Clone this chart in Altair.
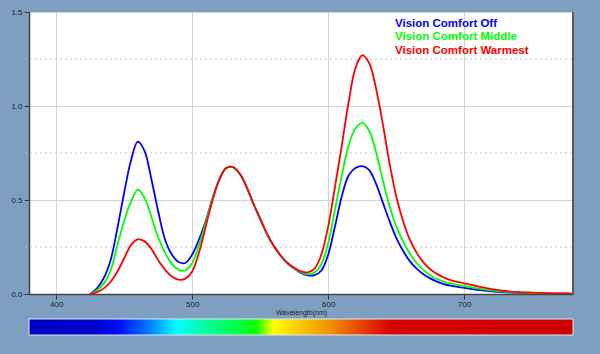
import altair as alt
import pandas as pd

# ---------------- data ----------------
series_names = ["Vision Comfort Off", "Vision Comfort Middle", "Vision Comfort Warmest"]
series_colors = ["#0000ff", "#00ff00", "#ff0000"]

wavelengths = [425, 430, 435, 440, 445, 450, 455, 460, 465, 470, 475, 480, 485, 490, 495,
               500, 505, 510, 515, 520, 525, 530, 535, 540, 545, 550, 555, 560, 565, 570,
               575, 580, 585, 590, 595, 600, 605, 610, 615, 620, 625, 630, 635, 640, 645,
               650, 655, 660, 665, 670, 675, 680, 685, 690, 695, 700,
               710, 720, 730, 740, 750, 760, 770, 780]

off_values = [0.0, 0.03, 0.085, 0.18, 0.35, 0.54, 0.71, 0.81, 0.76, 0.61, 0.44, 0.29, 0.21, 0.17, 0.165,
              0.21, 0.29, 0.39, 0.51, 0.61, 0.67, 0.675, 0.64, 0.57, 0.48, 0.40, 0.32, 0.255, 0.205, 0.165,
              0.135, 0.112, 0.099, 0.10, 0.125, 0.21, 0.36, 0.52, 0.63, 0.67, 0.68, 0.66, 0.59, 0.49, 0.39,
              0.30, 0.23, 0.175, 0.135, 0.105, 0.083, 0.066, 0.053, 0.044, 0.038, 0.033,
              0.022, 0.014, 0.009, 0.006, 0.004, 0.003, 0.002, 0.001]

middle_values = [0.0, 0.02, 0.055, 0.125, 0.26, 0.39, 0.49, 0.555, 0.51, 0.41, 0.30, 0.22, 0.16, 0.13, 0.125,
                 0.165, 0.26, 0.38, 0.51, 0.61, 0.67, 0.675, 0.64, 0.57, 0.48, 0.40, 0.32, 0.255, 0.205, 0.165,
                 0.137, 0.116, 0.105, 0.115, 0.16, 0.27, 0.45, 0.63, 0.79, 0.88, 0.91, 0.87, 0.76, 0.61, 0.47,
                 0.36, 0.28, 0.215, 0.165, 0.128, 0.10, 0.08, 0.066, 0.056, 0.049, 0.043,
                 0.03, 0.019, 0.012, 0.008, 0.005, 0.003, 0.002, 0.001]

warmest_values = [0.0, 0.01, 0.03, 0.065, 0.12, 0.19, 0.26, 0.29, 0.28, 0.24, 0.18, 0.13, 0.093, 0.076, 0.082,
                  0.12, 0.22, 0.36, 0.50, 0.61, 0.67, 0.675, 0.64, 0.57, 0.48, 0.40, 0.32, 0.255, 0.205, 0.165,
                  0.14, 0.12, 0.115, 0.135, 0.21, 0.36, 0.57, 0.79, 1.02, 1.20, 1.27, 1.23, 1.10, 0.91, 0.70,
                  0.52, 0.39, 0.29, 0.22, 0.168, 0.132, 0.107, 0.088, 0.074, 0.064, 0.057,
                  0.04, 0.026, 0.016, 0.01, 0.007, 0.004, 0.003, 0.002]

x_domain = [380, 780]
y_domain = [0, 1.5]
x_ticks = [400, 500, 600, 700]
y_ticks = [0.0, 0.5, 1.0, 1.5]
y_dotted = [0.25, 0.75, 1.25]

# visible-spectrum colour stops (offset along the bar, colour)
spectrum_offsets = [0.0, 0.121, 0.167, 0.222, 0.272, 0.327, 0.388, 0.419, 0.449, 0.498, 0.553, 0.608, 0.664, 1.0]
spectrum_colors = ["#0000c0", "#0000cc", "#0010ff", "#0080ff", "#00ffff", "#00ff99", "#00ff40",
                   "#10ff00", "#ffff00", "#f8c800", "#f09000", "#e84800", "#d80000", "#cc0000"]

# ---------------- tables ----------------
rows = []
for name, vals in zip(series_names, [off_values, middle_values, warmest_values]):
    for w, v in zip(wavelengths, vals):
        rows.append({"wavelength": w, "value": v, "series": name})
df = pd.DataFrame(rows)

x_scale = alt.Scale(domain=x_domain, nice=False, zero=False)
y_scale = alt.Scale(domain=y_domain, nice=False)

lines = alt.Chart(df).mark_line(strokeWidth=1.8, clip=True, interpolate="catmull-rom").encode(
    x=alt.X("wavelength:Q", scale=x_scale,
            axis=alt.Axis(values=x_ticks, format="d", title="Wavelength(nm)",
                          grid=True, gridColor="#d4d4d4", gridWidth=1,
                          labelFontSize=8, labelColor="#222222", labelPadding=1,
                          tickColor="#333333", tickSize=5, domainColor="#444444", domainWidth=1.5,
                          titleFontSize=7, titleFontWeight="normal", titleColor="#222222",
                          titlePadding=0)),
    y=alt.Y("value:Q", scale=y_scale,
            axis=alt.Axis(values=y_ticks, format=".1f", title=None,
                          grid=True, gridColor="#d4d4d4", gridWidth=1,
                          labelFontSize=8, labelColor="#222222", labelPadding=2,
                          tickColor="#333333", tickSize=5, domainColor="#444444", domainWidth=1.5)),
    color=alt.Color("series:N", scale=alt.Scale(domain=series_names, range=series_colors), legend=None),
    detail="series:N",
)

dotted = alt.Chart(pd.DataFrame({"y": y_dotted})).mark_rule(
    color="#c8c8c8", strokeDash=[2, 3], strokeWidth=1
).encode(y=alt.Y("y:Q", scale=y_scale), x=alt.value(-4), x2=alt.value(544))

right_edge = alt.Chart(pd.DataFrame({"x": [x_domain[1]]})).mark_rule(
    color="#5a5a5a", strokeWidth=2
).encode(x=alt.X("x:Q", scale=x_scale), y=alt.value(0), y2=alt.value(283))

stops = [alt.GradientStop(color=c, offset=o) for o, c in zip(spectrum_offsets, spectrum_colors)]
bar = alt.Chart(pd.DataFrame({"x0": [x_domain[0]], "x1": [x_domain[1]]})).mark_rect(
    fill=alt.Gradient(gradient="linear", stops=stops, x1=0, x2=1, y1=0, y2=0),
    stroke="#dde6f0", strokeWidth=1, clip=False
).encode(x=alt.X("x0:Q", scale=x_scale), x2="x1:Q", y=alt.value(307), y2=alt.value(323))

legend_layers = []
for i, (name, col) in enumerate(zip(series_names, series_colors)):
    legend_layers.append(
        alt.Chart(pd.DataFrame({"label": [name]})).mark_text(
            align="left", baseline="alphabetic", fontSize=11.5, fontWeight="bold",
            color=col, font="Liberation Sans"
        ).encode(text="label:N", x=alt.value(366), y=alt.value(15 + 13.3 * i))
    )

chart = alt.layer(dotted, lines, right_edge, bar, *legend_layers).properties(
    width=544, height=282,
    autosize=alt.AutoSizeParams(type="none"),
    padding={"left": 29, "top": 12, "right": 27, "bottom": 60},
    background="#7f9fc0",
).configure(font="Liberation Sans").configure_view(stroke=None, fill="white")

chart.save("out.html", embed_options={"renderer": "svg", "actions": False})
